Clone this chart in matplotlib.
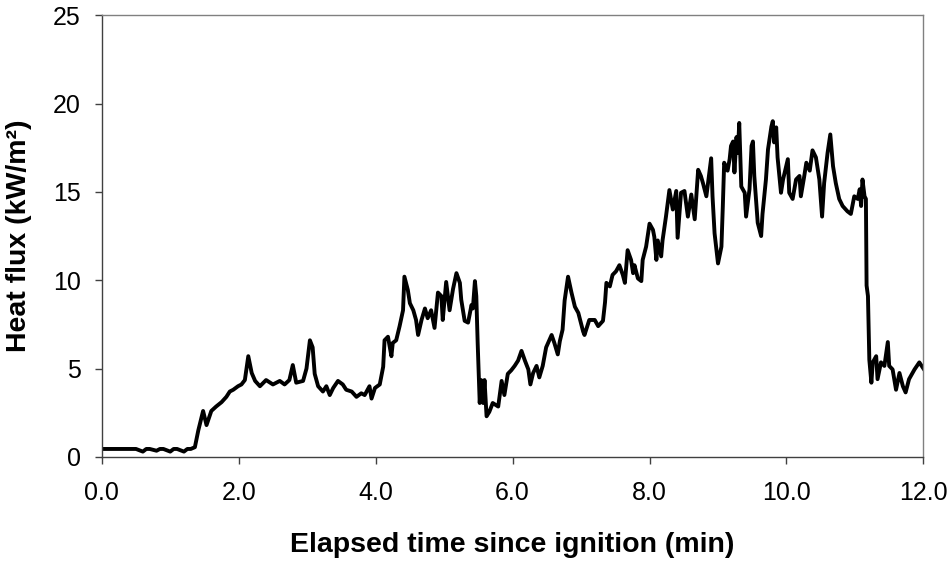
import matplotlib
matplotlib.use("Agg")
import matplotlib.pyplot as plt
from matplotlib.ticker import FormatStrFormatter

plt.rcParams['font.family'] = ['Liberation Sans', 'DejaVu Sans']

# Elapsed time (min) and measured heat flux (kW/m²)
time_min = [
    0.00, 0.50, 0.60, 0.65, 0.70, 0.80, 0.85, 0.90, 1.00, 1.05, 1.10, 1.20, 1.25, 1.30, 1.36,
    1.41, 1.48, 1.53, 1.60, 1.67, 1.75, 1.82, 1.87, 1.92, 1.99, 2.04, 2.09, 2.14, 2.19, 2.24,
    2.31, 2.40, 2.50, 2.60, 2.67, 2.74, 2.79, 2.84, 2.94, 2.99, 3.04, 3.08, 3.11, 3.16, 3.23,
    3.28, 3.33, 3.38, 3.45, 3.52, 3.57, 3.65, 3.72, 3.79, 3.84, 3.91, 3.94, 3.99, 4.06, 4.11,
    4.13, 4.18, 4.23, 4.25, 4.30, 4.35, 4.40, 4.42, 4.47, 4.50, 4.55, 4.59, 4.62, 4.67, 4.72,
    4.76, 4.81, 4.86, 4.91, 4.96, 4.98, 5.03, 5.08, 5.13, 5.18, 5.23, 5.25, 5.30, 5.35, 5.40,
    5.42, 5.45, 5.47, 5.49, 5.52, 5.54, 5.57, 5.59, 5.62, 5.66, 5.71, 5.79, 5.84, 5.88, 5.93,
    5.98, 6.03, 6.08, 6.13, 6.18, 6.23, 6.26, 6.30, 6.35, 6.39, 6.44, 6.49, 6.57, 6.61, 6.66,
    6.69, 6.73, 6.76, 6.81, 6.86, 6.91, 6.96, 7.03, 7.05, 7.12, 7.20, 7.25, 7.32, 7.35, 7.37,
    7.42, 7.46, 7.51, 7.56, 7.61, 7.64, 7.68, 7.73, 7.76, 7.78, 7.83, 7.88, 7.90, 7.95, 8.00,
    8.05, 8.07, 8.10, 8.12, 8.17, 8.19, 8.24, 8.29, 8.34, 8.39, 8.41, 8.46, 8.51, 8.56, 8.61,
    8.66, 8.71, 8.75, 8.78, 8.83, 8.90, 8.92, 8.95, 9.00, 9.05, 9.07, 9.09, 9.14, 9.17, 9.19,
    9.22, 9.24, 9.27, 9.29, 9.31, 9.34, 9.39, 9.41, 9.46, 9.49, 9.51, 9.53, 9.58, 9.63, 9.65,
    9.70, 9.73, 9.78, 9.80, 9.82, 9.85, 9.87, 9.92, 9.95, 10.02, 10.04, 10.09, 10.14, 10.19, 10.21,
    10.26, 10.29, 10.34, 10.38, 10.43, 10.48, 10.52, 10.55, 10.60, 10.64, 10.68, 10.72, 10.77, 10.82, 10.89,
    10.94, 10.99, 11.04, 11.07, 11.09, 11.11, 11.14, 11.16, 11.17, 11.19, 11.21, 11.24, 11.26, 11.31, 11.33,
    11.38, 11.43, 11.48, 11.50, 11.55, 11.60, 11.65, 11.70, 11.74, 11.79, 11.87, 11.94, 12.00,
]
heat_flux = [
    0.45, 0.45, 0.30, 0.45, 0.45, 0.35, 0.45, 0.45, 0.30, 0.45, 0.45, 0.30, 0.45, 0.45, 0.55,
    1.50, 2.60, 1.80, 2.60, 2.85, 3.10, 3.40, 3.70, 3.80, 4.00, 4.10, 4.35, 5.70, 4.75, 4.30,
    4.00, 4.35, 4.10, 4.30, 4.10, 4.35, 5.20, 4.20, 4.30, 5.00, 6.60, 6.20, 4.70, 4.00, 3.70,
    4.00, 3.50, 3.90, 4.30, 4.10, 3.80, 3.70, 3.40, 3.60, 3.50, 4.00, 3.30, 3.90, 4.10, 5.10,
    6.60, 6.80, 5.70, 6.45, 6.60, 7.40, 8.30, 10.20, 9.45, 8.70, 8.30, 7.75, 6.90, 7.75, 8.40,
    7.85, 8.30, 7.30, 9.30, 9.10, 7.75, 9.90, 8.30, 9.50, 10.40, 9.85, 8.90, 7.70, 7.60, 8.60,
    8.40, 9.95, 9.10, 6.45, 3.05, 4.35, 3.05, 4.35, 2.30, 2.55, 3.05, 2.85, 4.30, 3.50, 4.70,
    4.90, 5.15, 5.45, 6.00, 5.45, 4.95, 4.10, 4.75, 5.15, 4.50, 5.15, 6.20, 6.90, 6.45, 5.80,
    6.55, 7.20, 8.85, 10.20, 9.30, 8.50, 8.15, 7.10, 6.90, 7.75, 7.75, 7.40, 7.70, 8.75, 9.85,
    9.65, 10.30, 10.50, 10.85, 10.30, 9.85, 11.70, 11.15, 10.40, 10.85, 10.10, 9.95, 11.15, 11.90, 13.20,
    12.85, 12.45, 11.15, 12.25, 11.35, 12.25, 13.60, 15.10, 14.00, 15.05, 12.40, 14.95, 15.05, 13.60, 14.85,
    13.45, 16.25, 15.90, 15.50, 14.75, 16.90, 14.75, 12.65, 10.95, 11.90, 14.15, 16.65, 16.20, 16.85, 17.60,
    17.85, 16.10, 18.10, 17.20, 18.90, 15.30, 14.95, 13.60, 15.15, 17.60, 17.85, 15.90, 13.25, 12.50, 13.75,
    15.70, 17.40, 18.70, 19.00, 17.80, 18.65, 16.95, 14.95, 15.70, 16.85, 14.95, 14.60, 15.70, 15.90, 14.75,
    15.90, 16.65, 16.20, 17.35, 16.95, 15.70, 13.60, 15.50, 17.20, 18.25, 16.45, 15.50, 14.60, 14.20, 13.90,
    13.75, 14.75, 14.60, 15.15, 14.20, 15.70, 14.75, 14.60, 9.70, 9.10, 5.50, 4.20, 5.35, 5.70, 4.40,
    5.35, 5.15, 6.50, 5.15, 4.95, 3.80, 4.75, 4.00, 3.65, 4.40, 4.95, 5.35, 5.00,
]

x_ticks = [0, 2, 4, 6, 8, 10, 12]
y_ticks = [0, 5, 10, 15, 20, 25]

fig = plt.figure(figsize=(9.51, 5.62), dpi=100)
ax = fig.add_axes([0.107, 0.187, 0.864, 0.786])

ax.plot(time_min, heat_flux, color='black', linewidth=2.8, solid_joinstyle='round')

ax.set_xlim(0, 12)
ax.set_ylim(0, 25)
ax.set_xticks(x_ticks)
ax.set_yticks(y_ticks)
ax.xaxis.set_major_formatter(FormatStrFormatter('%.1f'))
ax.yaxis.set_major_formatter(FormatStrFormatter('%d'))

for side in ['top', 'right']:
    ax.spines[side].set_color('#808080')
    ax.spines[side].set_linewidth(1.0)
for side in ['left', 'bottom']:
    ax.spines[side].set_color('#404040')
    ax.spines[side].set_linewidth(1.0)

ax.tick_params(axis='both', which='major', direction='out', length=5, width=1,
               color='#404040', labelsize=18)
ax.tick_params(axis='x', pad=12)
ax.tick_params(axis='y', pad=10)
ax.tick_params(top=False, right=False)

ax.set_xlabel('Elapsed time since ignition (min)', fontsize=20.5, fontweight='bold', labelpad=20)
ax.set_ylabel('Heat flux (kW/m²)', fontsize=20.5, fontweight='bold', labelpad=15)

fig.savefig('out.png', dpi=100)
